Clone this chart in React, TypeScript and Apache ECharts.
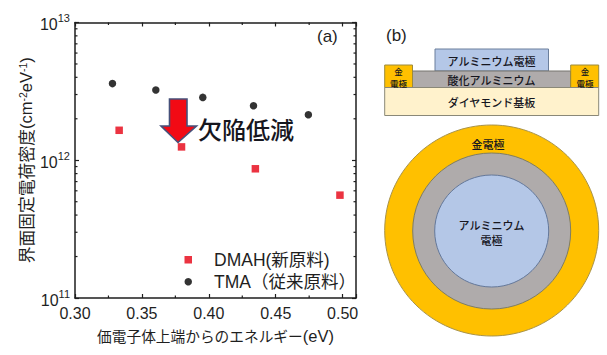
import React, { useEffect, useRef } from "react";
import * as echarts from "echarts";

const dmahX = [0.333, 0.3796, 0.4348, 0.498];
const dmahY = [1.65e12, 1.25e12, 8.67e11, 5.58e11];
const tmaX = [0.328, 0.3604, 0.3955, 0.4334, 0.4744];
const tmaY = [3.6e12, 3.24e12, 2.86e12, 2.49e12, 2.14e12];
const xMinorTicks = [0.325, 0.375, 0.425, 0.475];
const yMinorTicks = [2e11, 3e11, 4e11, 5e11, 6e11, 7e11, 8e11, 9e11, 2e12, 3e12, 4e12, 5e12, 6e12, 7e12, 8e12, 9e12];
const xRange = [0.3, 0.51];
const yRange = [1e11, 1e13];
const dmahName = "DMAH(新原料)";
const tmaName = "TMA（従来原料）";

const LATIN = '"Liberation Sans", Arial, sans-serif';
const CJK = '"Noto Sans CJK JP", sans-serif';
const MIXED = '"Liberation Sans", "Noto Sans CJK JP", sans-serif';
const INK = "#1e1e1e";
const TEXT = "#1f1f1f";

function label(text: string, x: number, y: number, size: number, align = "center", weight = 500, lineHeight?: number) {
  return {
    type: "text", x, y, z: 20,
    style: { text, fontSize: size, fontFamily: CJK, fontWeight: weight, fill: "#16161e", align, verticalAlign: "middle", lineHeight },
  };
}
function box(x: number, y: number, w: number, h: number, fill: string, stroke: string) {
  return { type: "rect", z: 10, shape: { x, y, width: w, height: h }, style: { fill, stroke, lineWidth: 1 } };
}
function disc(cx: number, cy: number, rx: number, ry: number, fill: string, stroke: string) {
  return { type: "ellipse", z: 10, shape: { cx, cy, rx, ry }, style: { fill, stroke, lineWidth: 1 } };
}

export default function App() {
  const ref = useRef<HTMLDivElement>(null);
  useEffect(() => {
    document.body.style.margin = "0";
    const chart = echarts.init(ref.current!, undefined, { renderer: "svg" });
    const axisLine = { show: true, onZero: false, lineStyle: { color: INK, width: 1.5 } };
    const axisTick = { show: true, inside: true, length: 4, lineStyle: { color: INK, width: 1.2 } };
    const tickMark = (p1: number[], dx: number, dy: number) => ({
      type: "line",
      shape: { x1: p1[0], y1: p1[1], x2: p1[0] + dx, y2: p1[1] + dy },
      style: { stroke: INK, lineWidth: 1.2 },
    });
    chart.setOption({
      animation: false,
      backgroundColor: "#ffffff",
      grid: { left: 75, top: 22.5, width: 281, height: 275.5, containLabel: false },
      legend: {
        data: [
          { name: dmahName, icon: "rect" },
          { name: tmaName, icon: "circle" },
        ],
        orient: "vertical",
        left: 179.5,
        top: 246,
        itemWidth: 7.5,
        itemHeight: 7.5,
        itemGap: 4.5,
        textStyle: { fontSize: 17.5, fontFamily: MIXED, color: TEXT, padding: [0, 0, 0, 17] },
      },
      xAxis: [
        {
          type: "value", position: "bottom", min: xRange[0], max: xRange[1], interval: 0.05,
          axisLine, axisTick, splitLine: { show: false },
          axisLabel: {
            fontSize: 16, fontFamily: LATIN, color: TEXT, margin: 7,
            formatter: (v: number) => (Math.round(v * 100) % 5 === 0 ? v.toFixed(2) : ""),
          },
          name: "{c|価電子体上端からのエネルギー}{l|(eV)}",
          nameLocation: "middle",
          nameGap: 29,
          nameTextStyle: {
            rich: {
              c: { fontSize: 14.7, fontFamily: CJK, color: TEXT },
              l: { fontSize: 16.5, fontFamily: LATIN, color: TEXT },
            },
          },
        },
        {
          type: "value", position: "top", min: xRange[0], max: xRange[1], interval: 0.05,
          axisLine, axisTick, splitLine: { show: false }, axisLabel: { show: false },
        },
      ],
      yAxis: [
        {
          type: "log", logBase: 10, position: "left", min: yRange[0], max: yRange[1],
          axisLine, axisTick, splitLine: { show: false }, minorTick: { show: false },
          axisLabel: {
            margin: 5,
            formatter: (v: number) => `{b|10}{s|${Math.round(Math.log10(v))}}`,
            rich: {
              b: { fontSize: 16, fontFamily: LATIN, color: TEXT, lineHeight: 20, padding: [4, 0, 0, 0] },
              s: { fontSize: 11, fontFamily: LATIN, color: TEXT, verticalAlign: "top", lineHeight: 14 },
            },
          },
          name: "{c|界面固定電荷密度}{l|(cm}{s|-2}{l|eV}{s|-1}{l|)}",
          nameLocation: "middle",
          nameGap: 41,
          nameRotate: 90,
          nameTextStyle: {
            rich: {
              c: { fontSize: 16.8, fontFamily: CJK, color: TEXT },
              l: { fontSize: 16.5, fontFamily: LATIN, color: TEXT },
              s: { fontSize: 10.5, fontFamily: LATIN, color: TEXT, verticalAlign: "top", lineHeight: 14 },
            },
          },
        },
        {
          type: "log", logBase: 10, position: "right", min: yRange[0], max: yRange[1],
          axisLine, axisTick, splitLine: { show: false }, axisLabel: { show: false },
        },
      ],
      series: [
        {
          name: dmahName, type: "scatter", symbol: "rect", symbolSize: 7.5,
          itemStyle: { color: "#e60012" },
          data: dmahX.map((x, i) => [x, dmahY[i]]),
        },
        {
          name: tmaName, type: "scatter", symbol: "circle", symbolSize: 7.5,
          itemStyle: { color: "#000000" },
          data: tmaX.map((x, i) => [x, tmaY[i]]),
        },
        {
          name: "xMinor", type: "custom", clip: false, silent: true,
          data: xMinorTicks.map((x) => [x]),
          encode: { x: 0 },
          renderItem: (_: any, api: any) => {
            const bottom = api.coord([api.value(0), yRange[0]]);
            const top = api.coord([api.value(0), yRange[1]]);
            return { type: "group", children: [tickMark(bottom, 0, -2.5), tickMark(top, 0, 2.5)] };
          },
        },
        {
          name: "yMinor", type: "custom", clip: false, silent: true,
          data: yMinorTicks.map((y) => [y]),
          encode: { y: 0 },
          renderItem: (_: any, api: any) => {
            const left = api.coord([xRange[0], api.value(0)]);
            const right = api.coord([xRange[1], api.value(0)]);
            return { type: "group", children: [tickMark(left, 2.5, 0), tickMark(right, -2.5, 0)] };
          },
        },
      ],
      graphic: [
        {
          type: "polygon", z: 15,
          shape: { points: [[169.5, 99], [187, 99], [187, 126], [196.5, 126], [178, 142.5], [161, 126], [169.5, 126]] },
          style: { fill: "#f20a14", stroke: "#45507a", lineWidth: 1.6 },
        },
        label("欠陥低減", 198, 128.5, 24, "left", 500),
        { type: "text", x: 317, y: 36, z: 20, style: { text: "(a)", fontSize: 17, fontFamily: LATIN, fill: TEXT, verticalAlign: "middle" } },
        { type: "text", x: 386, y: 35.5, z: 20, style: { text: "(b)", fontSize: 17, fontFamily: LATIN, fill: TEXT, verticalAlign: "middle" } },

        box(435, 49, 113.5, 22, "#b4c7e7", "#6b7f9c"),
        box(412.5, 71, 158, 16.5, "#afabab", "#77756f"),
        box(384.7, 65, 27.8, 22.5, "#ffc000", "#9c8a3c"),
        box(570.7, 65, 28, 22.5, "#ffc000", "#9c8a3c"),
        box(384.7, 87.5, 214, 28, "#fff2cc", "#8a8878"),
        label("アルミニウム電極", 491.5, 61, 11),
        label("酸化アルミニウム", 491.5, 80, 11),
        label("ダイヤモンド基板", 491.5, 102, 11),
        label("金\n電極", 398.5, 76.5, 8.5, "center", 500, 12),
        label("金\n電極", 585, 76.5, 8.5, "center", 500, 12),

        disc(491.7, 230.5, 107, 105.5, "#ffc000", "#a8934a"),
        disc(491.7, 231, 79, 78, "#afabab", "#7f7d62"),
        disc(491.7, 231, 57, 56, "#b4c7e7", "#64789a"),
        label("金電極", 488, 143.5, 11),
        label("アルミニウム\n電極", 491.5, 232, 11, "center", 500, 15),
      ],
    } as any);
    return () => chart.dispose();
  }, []);
  return <div ref={ref} style={{ position: "absolute", left: 0, top: 0, width: 607, height: 355 }} />;
}
